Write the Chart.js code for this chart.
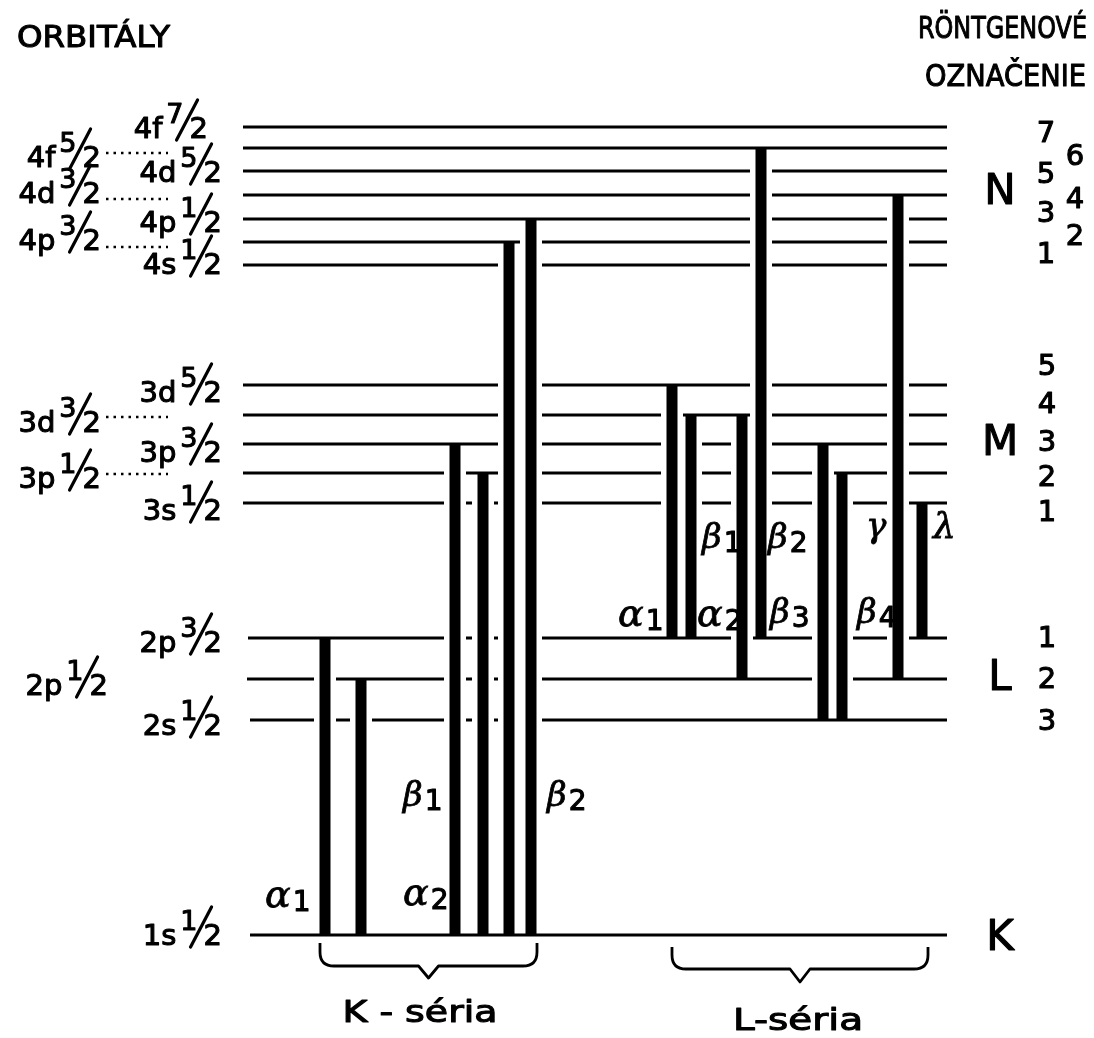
<!DOCTYPE html>
<html><head><meta charset="utf-8">
<script src="https://cdn.jsdelivr.net/npm/chart.js@4.4.0/dist/chart.umd.min.js"></script>
<style>html,body{margin:0;padding:0;background:#fff}#wrap{width:1094px;height:1038px}</style>
</head><body><div id="wrap"><canvas id="c" width="1094" height="1038"></canvas></div>
<script>
// ---------------- DATA ----------------
const levelNames   = ['K','L3','L2','L1','M1','M2','M3','M4','M5','N1','N2','N3','N4','N5','N6','N7'];
const levelEnergy  = [0, 215, 256, 297, 432, 462, 491, 520, 550, 670, 693, 716, 740, 764, 787, 808];
const orbitalMain  = ['1s','2s','2p','2p','3s','3p','3p','3d','3d','4s','4p','4p','4d','4d','4f','4f'];
const orbitalJ     = ['1/2','1/2','1/2','3/2','1/2','1/2','3/2','3/2','5/2','1/2','3/2','1/2','3/2','5/2','5/2','7/2'];
const shellLetters = ['K','L','M','N'];
const subshellNum  = ['','3','2','1','1','2','3','4','5','1','2','3','4','5','6','7'];

const kSeriesFrom  = ['L1','L2','M3','M2','N2','N3'];
const kSeriesTo    = ['K','K','K','K','K','K'];
const kSeriesNames = ['α1','α2','β1','β2'];

const lSeriesFrom  = ['M5','M4','M4','N6','M3','M2','N4','M1'];
const lSeriesTo    = ['L1','L1','L2','L1','L3','L3','L2','L1'];
const lSeriesNames = ['α1','α2','β1','β2','β3','β4','γ','λ'];

const seriesTitles = ['K - séria','L-séria'];
const headerLeft   = 'ORBITÁLY';
const headerRight  = ['RÖNTGENOVÉ','OZNAČENIE'];

// ---------------- LAYOUT (positions/styles only) ----------------
const L = {
  lineEndX: 947,
  lineStartX: {K:250, L3:250, L2:247, L1:248},
  lineStartDefault: 243,
  kX: [325, 361, 455, 483, 509, 531],
  lX: [672, 691, 742, 761, 823, 842, 898, 922],
  orbCol:    [1,1,0,1,1,0,1,0,1,1,0,1,0,1,0,1],
  orbOffset: [10,15,16,14,17,15,18,17,17,9,8,13,8,11,19,11],
  dotOffset: [0,0,0,0,0,1,0,2,0,0,5,0,4,0,5,0],
  subOffset: [0,10,9,9,18,13,7,-2,-10,-2,3,3,13,12,17,15],
  subX:      [0,1047,1047,1047,1047,1047,1047,1047,1047,1046,1075,1046,1075,1046,1075,1046],
  kLabels: [[265,907],[403,905],[403,806],[547,806]],
  lLabels: [[618,626],[697,626],[702,548],[768,548],[770,623],[857,623],[866,537],[933,538]]
};

const idx = n => levelNames.indexOf(n);
const E = n => levelEnergy[idx(n)];

// ---------------- DATASETS ----------------
const datasets = [];
levelNames.forEach((n, i) => {
  const x0 = L.lineStartX[n] !== undefined ? L.lineStartX[n] : L.lineStartDefault;
  datasets.push({data:[{x:x0,y:levelEnergy[i]},{x:L.lineEndX,y:levelEnergy[i]}],
    borderColor:'#000', borderWidth:3, showLine:true, pointRadius:0, order:3, borderCapStyle:'butt'});
});
function addTransition(x, from, to) {
  const yTop = E(from), yBot = E(to);
  datasets.push({data:[{x:x,y:yBot+3},{x:x,y:yTop-3}], borderColor:'#fff', borderWidth:22,
    showLine:true, pointRadius:0, order:2, borderCapStyle:'butt'});
  datasets.push({data:[{x:x,y:yBot-1},{x:x,y:yTop+1}], borderColor:'#000', borderWidth:11,
    showLine:true, pointRadius:0, order:1, borderCapStyle:'butt'});
}
kSeriesFrom.forEach((f, i) => addTransition(L.kX[i], f, kSeriesTo[i]));
lSeriesFrom.forEach((f, i) => addTransition(L.lX[i], f, lSeriesTo[i]));

// ---------------- TEXT HELPERS ----------------
const SANS = '"DejaVu Sans", sans-serif';
const HEAVY = 1.1;
function txt(ctx, s, x, y, size, align, fitW, font) {
  ctx.font = size + 'px ' + (font || SANS);
  ctx.textAlign = 'left';
  ctx.textBaseline = 'alphabetic';
  const w = ctx.measureText(s).width;
  const sc = fitW ? fitW / w : 1;
  const ww = w * sc;
  let x0 = x;
  if (align === 'center') x0 = x - ww / 2;
  else if (align === 'right') x0 = x - ww;
  ctx.save(); ctx.translate(x0, y); ctx.scale(sc, 1);
  ctx.lineWidth = HEAVY; ctx.lineJoin = 'round';
  ctx.fillText(s, 0, 0); ctx.strokeText(s, 0, 0); ctx.restore();
}
function orbital(ctx, xr, base, main, j) {
  const [num, den] = j.split('/');
  ctx.font = '29px ' + SANS;
  const wm = ctx.measureText(main).width, wd = ctx.measureText(den).width;
  ctx.font = '27px ' + SANS;
  const wn = ctx.measureText(num).width;
  const denStart = xr - wd;
  const numEnd = denStart - 6;
  const numStart = numEnd - wn;
  const mainEnd = numStart - 4;
  txt(ctx, main, mainEnd - wm, base, 29, 'left');
  txt(ctx, num, numStart, base - 15, 27, 'left');
  txt(ctx, den, denStart, base, 29, 'left');
  ctx.save(); ctx.lineWidth = 3.2; ctx.lineCap = 'round';
  ctx.beginPath(); ctx.moveTo(numEnd - 7, base + 2); ctx.lineTo(numEnd + 14, base - 38); ctx.stroke();
  ctx.restore();
}
function greek(ctx, label, x, base) {
  const g = label[0], sub = label.slice(1);
  const sizes = {'α':38,'β':34,'γ':34,'λ':36};
  ctx.font = 'italic ' + sizes[g] + 'px "DejaVu Serif", serif';
  ctx.textAlign = 'left'; ctx.textBaseline = 'alphabetic';
  ctx.lineWidth = 0.8;
  ctx.fillText(g, x, base); ctx.strokeText(g, x, base);
  const w = ctx.measureText(g).width;
  if (sub) txt(ctx, sub, x + w + 2, base + 4, 28, 'left');
}
function brace(ctx, x1, x2, yTop, yMid, yTip) {
  const cx = (x1 + x2) / 2, r = 14;
  ctx.save(); ctx.lineWidth = 2.8; ctx.strokeStyle = '#000'; ctx.lineJoin = 'round';
  ctx.beginPath();
  ctx.moveTo(x1, yTop); ctx.lineTo(x1, yMid - r);
  ctx.quadraticCurveTo(x1, yMid, x1 + r, yMid);
  ctx.lineTo(cx - 10, yMid); ctx.lineTo(cx, yTip); ctx.lineTo(cx + 10, yMid);
  ctx.lineTo(x2 - r, yMid);
  ctx.quadraticCurveTo(x2, yMid, x2, yMid - r);
  ctx.lineTo(x2, yTop);
  ctx.stroke(); ctx.restore();
}

const annotate = {
  id: 'annotate',
  afterDatasetsDraw(chart) {
    const ctx = chart.ctx, ys = chart.scales.y;
    const py = v => ys.getPixelForValue(v);
    ctx.save(); ctx.fillStyle = '#000'; ctx.strokeStyle = '#000';
    txt(ctx, headerLeft, 17, 47, 31, 'left', 153);
    txt(ctx, headerRight[0], 918, 38, 31, 'left', 169);
    txt(ctx, headerRight[1], 925, 86, 31, 'left', 161);
    levelNames.forEach((n, i) => {
      const yp = py(levelEnergy[i]);
      if (L.orbCol[i] === 1) {
        const xr = (n === 'N7') ? 208 : 222;
        orbital(ctx, xr, yp + L.orbOffset[i], orbitalMain[i], orbitalJ[i]);
      } else {
        orbital(ctx, n === 'L2' ? 108 : 101, yp + L.orbOffset[i], orbitalMain[i], orbitalJ[i]);
        if (n !== 'L2') {
          ctx.save(); ctx.lineWidth = 2.5; ctx.setLineDash([2.5, 5]);
          ctx.beginPath(); ctx.moveTo(106, yp + L.dotOffset[i]); ctx.lineTo(168, yp + L.dotOffset[i]); ctx.stroke();
          ctx.restore();
        }
      }
      if (subshellNum[i]) txt(ctx, subshellNum[i], L.subX[i], yp + L.subOffset[i], 29, 'center');
    });
    shellLetters.forEach(s => {
      const ps = levelNames.map((n, i) => n[0] === s ? py(levelEnergy[i]) : null).filter(v => v !== null);
      const avg = ps.reduce((a, b) => a + b, 0) / ps.length;
      txt(ctx, s, 1000, avg + (s === 'K' ? 15 : (s === 'N' ? 9 : 11)), 42, 'center');
    });
    kSeriesNames.forEach((s, i) => greek(ctx, s, L.kLabels[i][0], L.kLabels[i][1]));
    lSeriesNames.forEach((s, i) => greek(ctx, s, L.lLabels[i][0], L.lLabels[i][1]));
    brace(ctx, 320, 537, 943, 966, 978);
    brace(ctx, 672, 928, 947, 969, 982);
    txt(ctx, seriesTitles[0], 420, 1022, 31, 'center', 155);
    txt(ctx, seriesTitles[1], 798, 1030, 31, 'center', 130);
    ctx.restore();
  }
};

new Chart(document.getElementById('c'), {
  type: 'scatter',
  data: { datasets },
  options: {
    responsive: false, animation: false, devicePixelRatio: 1,
    layout: { padding: 0 },
    plugins: { legend: {display:false}, tooltip: {enabled:false} },
    scales: {
      x: { type:'linear', min:0, max:1094, display:false },
      y: { type:'linear', min:-103, max:935, display:false }
    }
  },
  plugins: [annotate]
});
</script></body></html>
